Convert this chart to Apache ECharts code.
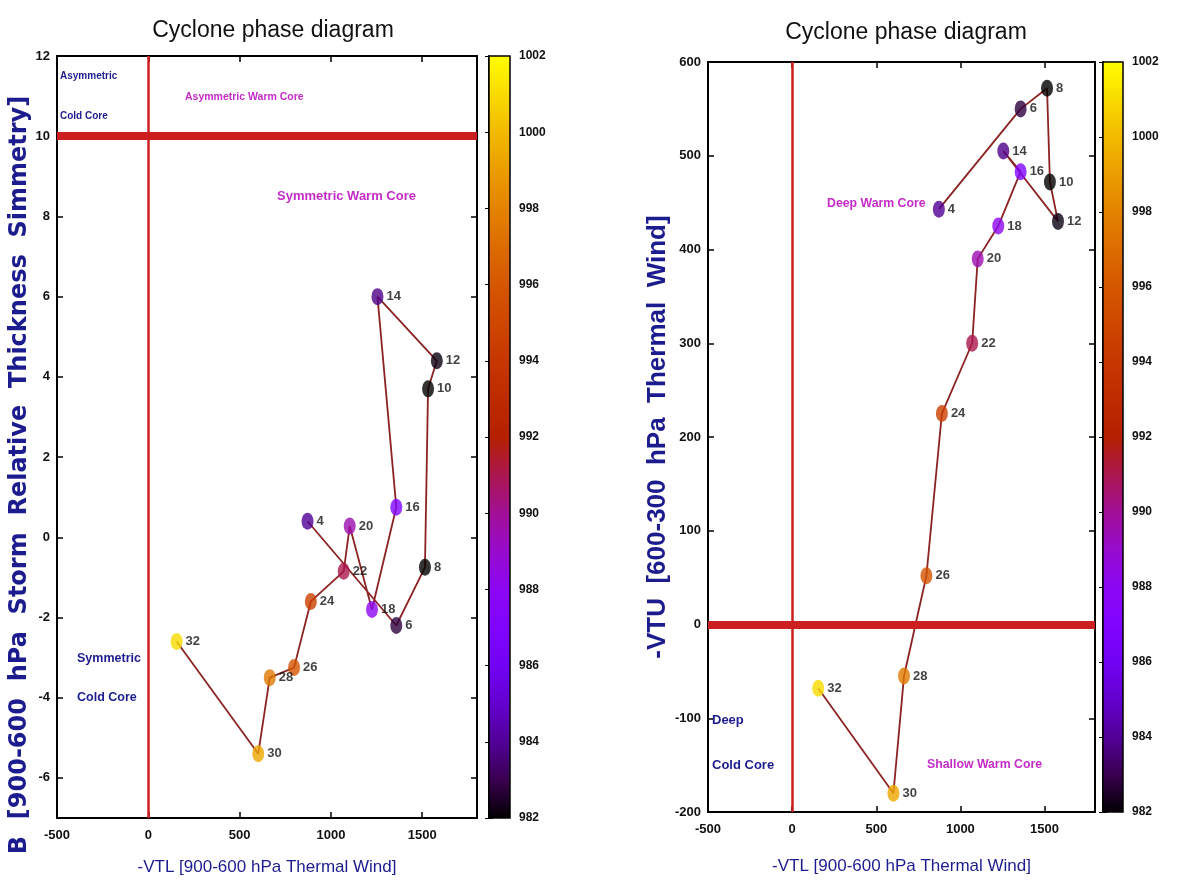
<!DOCTYPE html>
<html>
<head>
<meta charset="utf-8">
<title>Cyclone phase diagram</title>
<script src="https://cdn.jsdelivr.net/npm/echarts@6.0.0/dist/echarts.min.js"></script>
<style>
html, body { margin: 0; padding: 0; background: #fff; }
#main { width: 1200px; height: 883px; }
</style>
</head>
<body>
<div id="main"></div>
<script>
// point labels (hours)
var hours = [4, 6, 8, 10, 12, 14, 16, 18, 20, 22, 24, 26, 28, 30, 32];
// -VTL [900-600 hPa thermal wind], same in both panels
var vtl = [872, 1358, 1515, 1532, 1580, 1255, 1358, 1225, 1103, 1070, 890, 798, 665, 602, 155];
// B [thickness symmetry], left panel
var bParam = [0.4, -2.2, -0.75, 3.7, 4.4, 6.0, 0.75, -1.8, 0.28, -0.85, -1.6, -3.25, -3.5, -5.4, -2.6];
// -VTU [600-300 hPa thermal wind], right panel
var vtu = [443, 550, 572, 472, 430, 505, 483, 425, 390, 300, 225, 52, -55, -180, -68];
// MSLP (hPa), gives the point colour
var pressure = [984, 982.8, 982, 982, 982.2, 983.8, 987, 988, 989.5, 991, 994.5, 995.8, 997.5, 999.3, 1001];

// tick labels
var xTicks = [-500, 0, 500, 1000, 1500];
var bTicks = [-6, -4, -2, 0, 2, 4, 6, 8, 10, 12];
var vtuTicks = [-200, -100, 0, 100, 200, 300, 400, 500, 600];
var cbTicks = [982, 984, 986, 988, 990, 992, 994, 996, 998, 1000, 1002];

// gnuplot-like palette, 982 -> 1002
var palette = ['#000000', '#39004f', '#510096', '#6301ce', '#7202f3', '#8004ff', '#8c07f3',
  '#970bce', '#a11096', '#ab174f', '#b42000', '#bd2b00', '#c63700', '#ce4700', '#d55700',
  '#dc6c00', '#e48300', '#eb9d00', '#f2ba00', '#f9db00', '#ffff00'];

var sans = "'Liberation Sans', Arial, sans-serif";
var navy = '#1c1c8e';
var magenta = '#c42cc8';
var quadRed = '#cc1f1f';

var chart = echarts.init(document.getElementById('main'));

function plain(v) { return String(v); }

function rows(ys) {
  return vtl.map(function (x, i) { return [x, ys[i], pressure[i], hours[i]]; });
}

function frameX(gi, pos, name, withLabels, gap) {
  return {
    type: 'value', gridIndex: gi, position: pos, min: -500, max: 1800,
    axisLine: { show: true, onZero: false, lineStyle: { color: '#000', width: 2 } },
    axisTick: { show: true, inside: true, length: 6, customValues: xTicks, lineStyle: { color: '#000', width: 1.5 } },
    axisLabel: { show: withLabels, customValues: xTicks, formatter: plain, margin: 11, fontSize: 13, fontWeight: 'bold', fontFamily: sans, color: '#111' },
    splitLine: { show: false },
    name: withLabels ? name : '', nameLocation: 'middle', nameGap: gap || 40,
    nameTextStyle: { fontSize: 17, fontFamily: sans, color: navy }
  };
}

function frameY(gi, pos, min, max, ticks, name, withLabels, nameStyle) {
  return {
    type: 'value', gridIndex: gi, position: pos, min: min, max: max,
    axisLine: { show: true, onZero: false, lineStyle: { color: '#000', width: 2 } },
    axisTick: { show: true, inside: true, length: 6, customValues: ticks, lineStyle: { color: '#000', width: 1.5 } },
    axisLabel: { show: withLabels, customValues: ticks, formatter: plain, margin: 7, fontSize: 13, fontWeight: 'bold', fontFamily: sans, color: '#111' },
    splitLine: { show: false },
    name: withLabels ? name : '', nameLocation: 'middle', nameGap: 24, nameRotate: 90,
    nameTextStyle: nameStyle
  };
}

function barX(gi) {
  return { type: 'value', gridIndex: gi, min: 0, max: 1, show: false };
}

function barY(gi, pos, withLabels) {
  return {
    type: 'value', gridIndex: gi, position: pos, min: 982, max: 1002, interval: 2,
    axisLine: { show: true, lineStyle: { color: '#000', width: 1.5 } },
    axisTick: { show: true, inside: true, length: 4, lineStyle: { color: '#000' } },
    axisLabel: { show: withLabels, formatter: plain, margin: 9, fontSize: 12, fontWeight: 'bold', fontFamily: sans, color: '#111' },
    splitLine: { show: false }
  };
}

function trackSeries(xi, yi, data, quadLines) {
  return {
    type: 'line', xAxisIndex: xi, yAxisIndex: yi, data: data, symbol: 'none', z: 3,
    lineStyle: { color: '#8b2323', width: 1.8 },
    markLine: {
      silent: true, symbol: 'none', label: { show: false },
      data: quadLines
    }
  };
}

function pointSeries(xi, yi, data) {
  return {
    type: 'scatter', xAxisIndex: xi, yAxisIndex: yi, data: data, z: 5,
    symbol: 'circle', symbolSize: [12, 17],
    label: {
      show: true, position: 'right', distance: 3,
      formatter: function (p) { return p.value[3]; },
      fontSize: 13, fontWeight: 'bold', fontFamily: sans, color: '#111'
    }
  };
}

function colorBar(xi, yi) {
  var stops = palette.map(function (c, i) {
    return { offset: 1 - i / (palette.length - 1), color: c };
  });
  return {
    type: 'custom', xAxisIndex: xi, yAxisIndex: yi, data: [[982, 1002]],
    renderItem: function (params, api) {
      var p0 = api.coord([0, api.value(1)]);
      var p1 = api.coord([1, api.value(0)]);
      return {
        type: 'rect',
        shape: { x: p0[0], y: p0[1], width: p1[0] - p0[0], height: p1[1] - p0[1] },
        style: { fill: new echarts.graphic.LinearGradient(0, 0, 0, 1, stops), stroke: '#000', lineWidth: 1.5 }
      };
    }
  };
}

function note(x, y, text, color, size) {
  return {
    type: 'text', x: x, y: y, z: 10,
    style: { text: text, fill: color, font: 'bold ' + size + 'px ' + sans, verticalAlign: 'middle' }
  };
}

var xName = '-VTL [900-600 hPa Thermal Wind]';
var titleStyle = { fontSize: 23, fontWeight: 'normal', fontFamily: sans, color: '#111' };

chart.setOption({
  animation: false,
  backgroundColor: '#fff',
  title: [
    { text: 'Cyclone phase diagram', left: 268, top: 14, textAlign: 'center', textStyle: titleStyle },
    { text: 'Cyclone phase diagram', left: 901, top: 16, textAlign: 'center', textStyle: titleStyle }
  ],
  grid: [
    { left: 57, top: 56, width: 420, height: 762 },
    { left: 489, top: 56, width: 21, height: 762 },
    { left: 708, top: 62, width: 387, height: 750 },
    { left: 1103, top: 62, width: 20, height: 750 }
  ],
  xAxis: [
    frameX(0, 'bottom', xName, true, 41),
    frameX(0, 'top', '', false),
    barX(1),
    frameX(2, 'bottom', xName, true, 46),
    frameX(2, 'top', '', false),
    barX(3)
  ],
  yAxis: [
    frameY(0, 'left', -7, 12, bTicks, 'B  [900-600  hPa  Storm  Relative  Thickness  Simmetry]', true,
      { fontSize: 24, fontWeight: 'bold', fontFamily: "'DejaVu Sans', sans-serif", color: navy, padding: [0, 76, 0, 0] }),
    frameY(0, 'right', -7, 12, bTicks, '', false),
    barY(1, 'right', true),
    barY(1, 'left', false),
    frameY(2, 'left', -200, 600, vtuTicks, '-VTU  [600-300  hPa  Thermal  Wind]', true,
      { fontSize: 26, fontWeight: 'bold', fontFamily: sans, color: navy }),
    frameY(2, 'right', -200, 600, vtuTicks, '', false),
    barY(3, 'right', true),
    barY(3, 'left', false)
  ],
  visualMap: [{
    type: 'continuous', show: false, min: 982, max: 1002, dimension: 2,
    seriesIndex: [1, 4], inRange: { color: palette }
  }],
  series: [
    trackSeries(0, 0, rows(bParam), [
      { xAxis: 0, lineStyle: { color: quadRed, width: 2.5, type: 'solid' } },
      { yAxis: 10, lineStyle: { color: quadRed, width: 8, type: 'solid' } }
    ]),
    pointSeries(0, 0, rows(bParam)),
    colorBar(2, 2),
    trackSeries(3, 4, rows(vtu), [
      { xAxis: 0, lineStyle: { color: quadRed, width: 2.5, type: 'solid' } },
      { yAxis: 0, lineStyle: { color: quadRed, width: 8, type: 'solid' } }
    ]),
    pointSeries(3, 4, rows(vtu)),
    colorBar(5, 6)
  ],
  graphic: [
    note(60, 76, 'Asymmetric', navy, 10),
    note(60, 116, 'Cold Core', navy, 10),
    note(185, 97, 'Asymmetric Warm Core', magenta, 10.5),
    note(277, 196, 'Symmetric Warm Core', magenta, 13),
    note(77, 659, 'Symmetric', navy, 12.5),
    note(77, 698, 'Cold Core', navy, 12.5),
    note(827, 204, 'Deep Warm Core', magenta, 12.3),
    note(712, 720, 'Deep', navy, 13),
    note(712, 765, 'Cold Core', navy, 13),
    note(927, 765, 'Shallow Warm Core', magenta, 12.3)
  ]
});
</script>
</body>
</html>
